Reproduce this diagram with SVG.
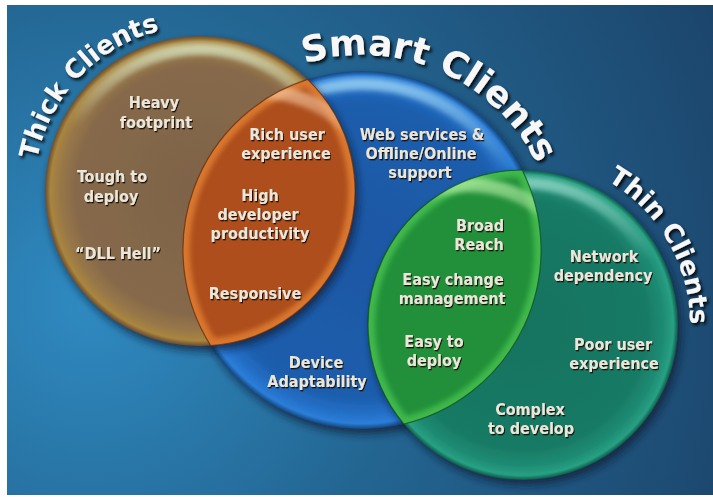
<svg xmlns="http://www.w3.org/2000/svg" xmlns:xlink="http://www.w3.org/1999/xlink" width="713" height="497" viewBox="0 0 713 497">
  <defs>
    <style>
      .lbl { font-family: "DejaVu Sans Condensed", "DejaVu Sans", sans-serif; font-stretch: condensed; font-weight: bold; font-size: 16px; fill: #ebe6da; text-anchor: middle; }
      .ttl { font-family: "DejaVu Sans", "Liberation Sans", sans-serif; font-weight: bold; fill: #f7f7f7; text-anchor: middle; }
    </style>

    <!-- backdrop -->
    <radialGradient id="bg" gradientUnits="userSpaceOnUse" cx="90" cy="300" r="720">
      <stop offset="0" stop-color="#2f8ac1"/>
      <stop offset="0.45" stop-color="#236591"/>
      <stop offset="1" stop-color="#1b4268"/>
    </radialGradient>

    <!-- circle bodies: flat centre, bright rim, dark edge -->
    <radialGradient id="gThick" gradientUnits="userSpaceOnUse" cx="200" cy="191" r="155">
      <stop offset="0" stop-color="#7e6348"/>
      <stop offset="0.8" stop-color="#86694b"/>
      <stop offset="0.9" stop-color="#977747"/>
      <stop offset="0.965" stop-color="#a9853f"/>
      <stop offset="1" stop-color="#6a4c2e"/>
    </radialGradient>
    <radialGradient id="gSmart" gradientUnits="userSpaceOnUse" cx="362" cy="250" r="179">
      <stop offset="0" stop-color="#1a58a4"/>
      <stop offset="0.82" stop-color="#1c5dac"/>
      <stop offset="0.92" stop-color="#2470c8"/>
      <stop offset="0.97" stop-color="#2b7ed8"/>
      <stop offset="1" stop-color="#15467f"/>
    </radialGradient>
    <radialGradient id="gThin" gradientUnits="userSpaceOnUse" cx="523" cy="325" r="155">
      <stop offset="0" stop-color="#16735f"/>
      <stop offset="0.8" stop-color="#187a65"/>
      <stop offset="0.91" stop-color="#1f8c74"/>
      <stop offset="0.97" stop-color="#27a083"/>
      <stop offset="1" stop-color="#0e5848"/>
    </radialGradient>

    <!-- top gloss bands -->
    <linearGradient id="hiThick" gradientUnits="userSpaceOnUse" x1="0" y1="36" x2="0" y2="125">
      <stop offset="0" stop-color="#dcebc8" stop-opacity="0.85"/>
      <stop offset="1" stop-color="#dcebc8" stop-opacity="0"/>
    </linearGradient>
    <linearGradient id="hiSmart" gradientUnits="userSpaceOnUse" x1="0" y1="71" x2="0" y2="170">
      <stop offset="0" stop-color="#a6dcf8" stop-opacity="0.85"/>
      <stop offset="1" stop-color="#a6dcf8" stop-opacity="0"/>
    </linearGradient>
    <linearGradient id="hiThin" gradientUnits="userSpaceOnUse" x1="0" y1="170" x2="0" y2="260">
      <stop offset="0" stop-color="#a4e4d4" stop-opacity="0.8"/>
      <stop offset="1" stop-color="#a4e4d4" stop-opacity="0"/>
    </linearGradient>
    <linearGradient id="hiOrange" gradientUnits="userSpaceOnUse" x1="0" y1="79" x2="0" y2="160">
      <stop offset="0" stop-color="#f4c49c" stop-opacity="0.85"/>
      <stop offset="1" stop-color="#f4c49c" stop-opacity="0"/>
    </linearGradient>
    <linearGradient id="hiGreen" gradientUnits="userSpaceOnUse" x1="0" y1="170" x2="0" y2="250">
      <stop offset="0" stop-color="#b8f0a8" stop-opacity="0.85"/>
      <stop offset="1" stop-color="#b8f0a8" stop-opacity="0"/>
    </linearGradient>

    <!-- outlines shared by fills and clips -->
    <path id="lensOrange" d="M307.6,79.4 A179,179 0 0 0 210.7,345.6 A155,155 0 0 0 307.6,79.4 Z"/>
    <path id="lensGreen" d="M522.2,170 A155,155 0 0 0 403.8,424 A179,179 0 0 0 522.2,170 Z"/>

    <clipPath id="cThick"><circle cx="200" cy="191" r="155"/></clipPath>
    <clipPath id="cSmart"><circle cx="362" cy="250" r="179"/></clipPath>
    <clipPath id="cThin"><circle cx="523" cy="325" r="155"/></clipPath>
    <clipPath id="cOrange"><use xlink:href="#lensOrange"/></clipPath>
    <clipPath id="cGreen"><use xlink:href="#lensGreen"/></clipPath>

    <!-- baselines for the curved titles -->
    <path id="arcThick" d="M34.6,205.4 A165,165 0 0 1 227.7,28.5" fill="none"/>
    <path id="arcSmart" d="M236.7,100.6 A195,195 0 0 1 557,250" fill="none"/>
    <path id="arcThin" d="M523,158 A166,166 0 0 1 650.2,431.7" fill="none"/>

    <filter id="soft" x="-20%" y="-20%" width="140%" height="140%">
      <feGaussianBlur stdDeviation="2.5"/>
    </filter>
    <filter id="drop" x="-20%" y="-20%" width="140%" height="140%">
      <feDropShadow dx="3" dy="5" stdDeviation="4" flood-color="#081a30" flood-opacity="0.75"/>
    </filter>
    <filter id="txtShadow" x="-10%" y="-20%" width="120%" height="140%">
      <feDropShadow dx="1" dy="1.3" stdDeviation="0.7" flood-color="#120a04" flood-opacity="0.95"/>
    </filter>
    <filter id="ttlShadow" x="-10%" y="-20%" width="120%" height="140%">
      <feDropShadow dx="2" dy="2.5" stdDeviation="1.4" flood-color="#000000" flood-opacity="0.85"/>
    </filter>
  </defs>

  <!-- frame and backdrop -->
  <rect x="0" y="0" width="713" height="497" fill="#ffffff"/>
  <rect x="7" y="5" width="706" height="490" fill="url(#bg)"/>

  <!-- Smart Clients circle -->
  <g id="smart">
    <circle cx="362" cy="250" r="179" fill="url(#gSmart)" filter="url(#drop)"/>
    <g clip-path="url(#cSmart)">
      <circle cx="362" cy="250" r="166" fill="none" stroke="url(#hiSmart)" stroke-width="12" filter="url(#soft)"/>
    </g>
  </g>

  <!-- Thick Clients circle -->
  <g id="thick">
    <circle cx="200" cy="191" r="155" fill="url(#gThick)" filter="url(#drop)"/>
    <g clip-path="url(#cThick)">
      <circle cx="200" cy="191" r="142" fill="none" stroke="url(#hiThick)" stroke-width="12" filter="url(#soft)"/>
    </g>
  </g>

  <!-- Thin Clients circle -->
  <g id="thin">
    <circle cx="523" cy="325" r="155" fill="url(#gThin)" filter="url(#drop)"/>
    <g clip-path="url(#cThin)">
      <circle cx="523" cy="325" r="142" fill="none" stroke="url(#hiThin)" stroke-width="12" filter="url(#soft)"/>
    </g>
  </g>

  <!-- Thick ∩ Smart -->
  <g id="overlap-thick-smart">
    <use xlink:href="#lensOrange" fill="#ad4e1c"/>
    <g clip-path="url(#cOrange)">
      <use xlink:href="#lensOrange" fill="none" stroke="#d9772f" stroke-width="14" filter="url(#soft)"/>
      <circle cx="262" cy="212" r="120" fill="none" stroke="url(#hiOrange)" stroke-width="14" filter="url(#soft)"/>
    </g>
    <use xlink:href="#lensOrange" fill="none" stroke="#5e290c" stroke-width="1.2" stroke-opacity="0.7"/>
  </g>

  <!-- Smart ∩ Thin -->
  <g id="overlap-smart-thin">
    <use xlink:href="#lensGreen" fill="#22903a"/>
    <g clip-path="url(#cGreen)">
      <use xlink:href="#lensGreen" fill="none" stroke="#40b84c" stroke-width="14" filter="url(#soft)"/>
      <circle cx="470" cy="300" r="115" fill="none" stroke="url(#hiGreen)" stroke-width="14" filter="url(#soft)"/>
    </g>
    <use xlink:href="#lensGreen" fill="none" stroke="#0d4a1a" stroke-width="1.2" stroke-opacity="0.7"/>
  </g>

  <!-- curved titles -->
  <g id="titles" filter="url(#ttlShadow)">
    <text class="ttl" font-size="26"><textPath xlink:href="#arcThick" startOffset="139.7">Thick Clients</textPath></text>
    <text class="ttl" font-size="36"><textPath xlink:href="#arcSmart" startOffset="215.4">Smart Clients</textPath></text>
    <text class="ttl" font-size="26"><textPath xlink:href="#arcThin" startOffset="175">Thin Clients</textPath></text>
  </g>

  <!-- feature labels -->
  <g id="labels" filter="url(#txtShadow)">
    <text class="lbl" x="154" y="108">Heavy</text>
    <text class="lbl" x="156" y="128">footprint</text>
    <text class="lbl" x="112" y="182">Tough to</text>
    <text class="lbl" x="111" y="202">deploy</text>
    <text class="lbl" x="118" y="259">“DLL Hell”</text>

    <text class="lbl" x="287" y="140">Rich user</text>
    <text class="lbl" x="286" y="159">experience</text>
    <text class="lbl" x="260" y="201">High</text>
    <text class="lbl" x="258" y="220">developer</text>
    <text class="lbl" x="260" y="239">productivity</text>
    <text class="lbl" x="255" y="299">Responsive</text>

    <text class="lbl" x="422" y="140">Web services &amp;</text>
    <text class="lbl" x="421" y="159">Offline/Online</text>
    <text class="lbl" x="420" y="178">support</text>
    <text class="lbl" x="316" y="368">Device</text>
    <text class="lbl" x="317" y="387">Adaptability</text>

    <text class="lbl" x="480" y="231">Broad</text>
    <text class="lbl" x="479" y="250">Reach</text>
    <text class="lbl" x="453" y="285">Easy change</text>
    <text class="lbl" x="452" y="304">management</text>
    <text class="lbl" x="434" y="347">Easy to</text>
    <text class="lbl" x="434" y="366">deploy</text>

    <text class="lbl" x="604" y="262">Network</text>
    <text class="lbl" x="603" y="281">dependency</text>
    <text class="lbl" x="613" y="350">Poor user</text>
    <text class="lbl" x="614" y="369">experience</text>
    <text class="lbl" x="530" y="415">Complex</text>
    <text class="lbl" x="531" y="434">to develop</text>
  </g>
</svg>
